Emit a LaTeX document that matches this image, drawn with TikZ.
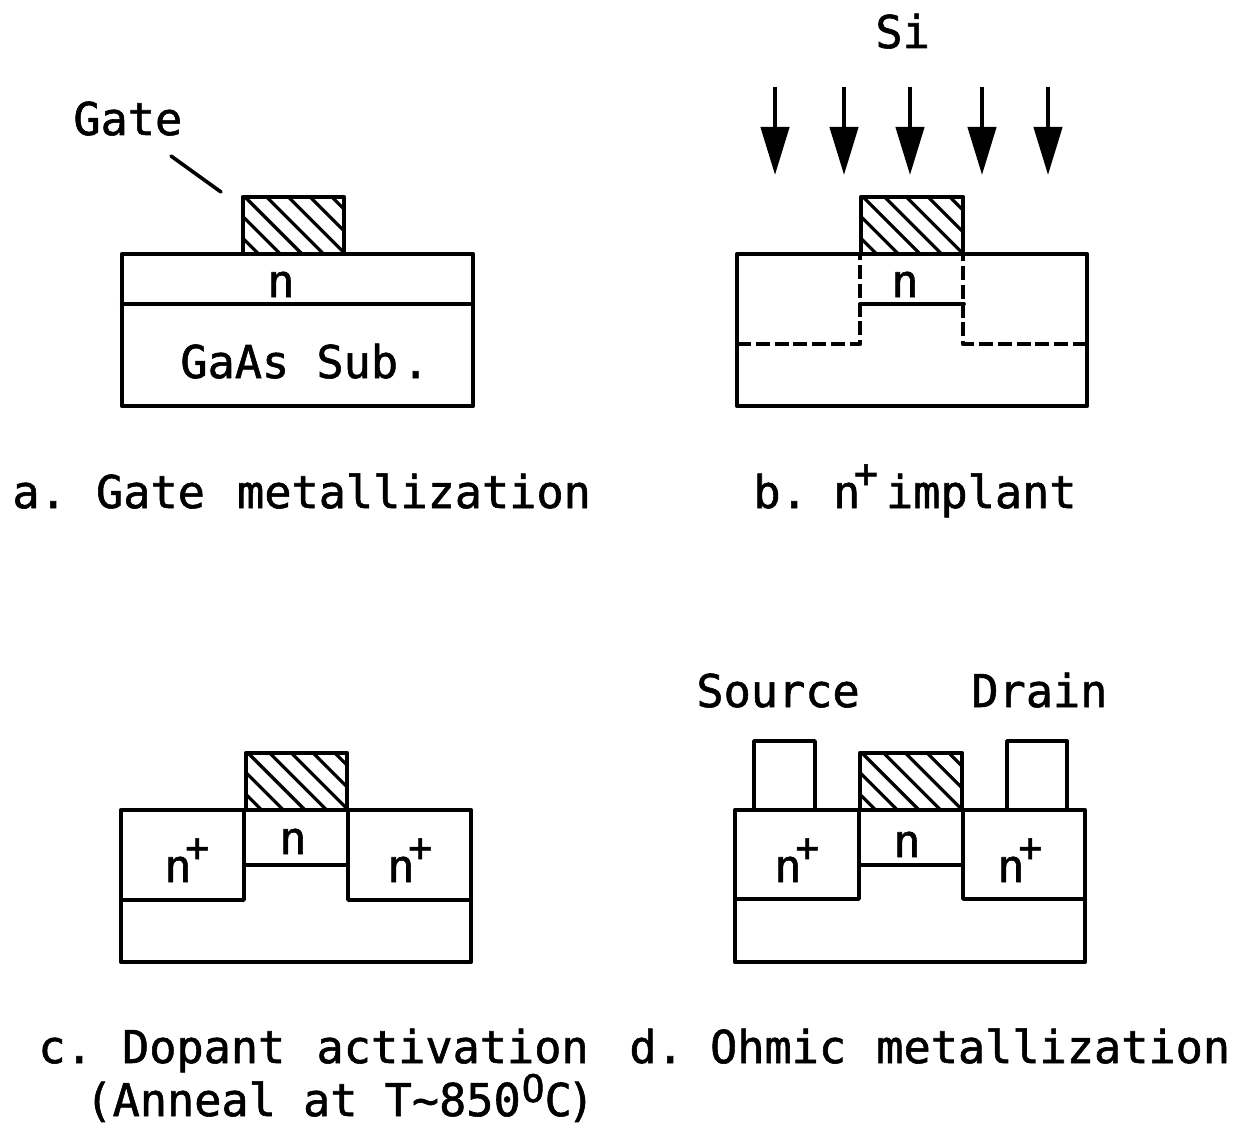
\documentclass[tikz,border=0pt]{standalone}
\usepackage{fontspec}
\setmainfont{DejaVu Sans Mono}
\usetikzlibrary{arrows.meta}
\newcommand{\bigtxt}{\fontsize{22.6pt}{27pt}\selectfont\addfontfeature{FakeBold=1.3}}
\newcommand{\upplus}{\kern-0.14em\raisebox{0.46em}{\fontsize{20pt}{20pt}\selectfont\addfontfeature{FakeBold=1.3}+}}
\newcommand{\updeg}{\kern0.02em\raisebox{0.31em}{\fontsize{19pt}{20pt}\selectfont\addfontfeature{FakeBold=1.3}O}}
\newcommand{\hatchgate}[4]{%
  \begin{scope}
    \clip (#1,#2) rectangle (#3,#4);
    \foreach \k in {-3,...,4}
      \draw[hatchline] ({#1+2+\k*21.7},#2) -- ++(70,70);
  \end{scope}
  \draw[gatebox] (#1,#2) rectangle (#3,#4);
}
\tikzset{
  x=0.5pt,y=-0.5pt,
  lbl/.style={anchor=base west,inner sep=0pt,font=\bigtxt},
  outer/.style={line width=2.2pt,line join=round,line cap=round},
  inner/.style={line width=1.9pt,line join=round,line cap=round},
  gatebox/.style={line width=2.3pt,line join=round},
  hatchline/.style={line width=1.6pt},
  contact/.style={line width=1.9pt,line join=round},
  dashline/.style={line width=2.1pt,dash pattern=on 7pt off 2.4pt,line join=round},
  siarrow/.style={line width=2.2pt,-{Triangle[length=24pt,width=14pt]}},
  leader/.style={line width=1.8pt,line cap=round},
}
\begin{document}
\begin{tikzpicture}
\useasboundingbox (0,0) rectangle (1241,1123);
\fill[white] (0,0) rectangle (1241,1123);

%% panel a
\draw[outer] (122,254) rectangle (473,406);
\draw[outer] (122,304) -- (473,304);
\hatchgate{243}{197}{344}{254}
\node[lbl] (gatelabel) at (73,135) {Gate};
\coordinate (gatefrom) at (171,156);
\coordinate (gateto) at (221,192);
\draw[leader] (gatefrom) -- (gateto);
\node[lbl] (na) at (267,297) {n};
\node[lbl] (subs) at (180,378) {GaAs Sub\kern2pt.};
\node[lbl] (capa) at (12,508) {a.\kern-3.5pt{} Gate\kern2.5pt{} metallization};

%% panel b
\draw[outer] (737,254) rectangle (1087,406);
\hatchgate{861}{197}{963}{254}
\draw[inner] (860,304) -- (964,304);
\draw[dashline] (737,344) -- (860,344) -- (860,254);
\draw[dashline] (1087,344) -- (963,344) -- (963,254);
\node[lbl] (si) at (875,48) {Si};
\foreach \nm/\xa/\xb in {1/775/775,2/844/844,3/910/910,4/982/982,5/1048/1048}{
  \coordinate (as\nm) at (\xa,87);
  \coordinate (ae\nm) at (\xb,175);
  \draw[siarrow] (as\nm) -- (ae\nm);
}
\node[lbl] (nb) at (891,297) {n};
\node[lbl] (capb) at (753,508) {b.\kern-5.5pt{} n\upplus\kern4pt{}implant};

%% panel c
\draw[outer] (121,810) rectangle (471,962);
\draw[inner] (121,900) -- (244,900) -- (244,810);
\draw[inner] (471,900) -- (348,900) -- (348,810);
\draw[inner] (244,865) -- (348,865);
\hatchgate{246}{753}{347}{810}
\node[lbl] (nc) at (279,854) {n};
\node[lbl] (ncl) at (164,882) {n\upplus};
\node[lbl] (ncr) at (387,882) {n\upplus};
\node[lbl] (capc) at (38,1063) {c.\kern-3.5pt{} Dopant\kern2pt{} activation};
\node[lbl] (capcc) at (85,1116) {(Anneal at T\textasciitilde 850\updeg C\kern-0.1em)};

%% panel d
\draw[outer] (735,810) rectangle (1085,962);
\draw[inner] (735,899) -- (859,899) -- (859,810);
\draw[inner] (1085,899) -- (963,899) -- (963,810);
\draw[inner] (859,865) -- (963,865);
\hatchgate{860}{753}{962}{810}
\draw[contact] (754,808) -- (754,741) -- (815,741) -- (815,808);
\draw[contact] (1007,808) -- (1007,741) -- (1067,741) -- (1067,808);
\node[lbl] (src) at (696,707) {Source};
\node[lbl] (drn) at (971,707) {Drain};
\node[lbl] (nd) at (893,857) {n};
\node[lbl] (ndl) at (774,882) {n\upplus};
\node[lbl] (ndr) at (997,882) {n\upplus};
\node[lbl] (capd) at (629,1063) {d.\kern-5pt{} Ohmic\kern1.5pt{} metallization};
\end{tikzpicture}
\end{document}
